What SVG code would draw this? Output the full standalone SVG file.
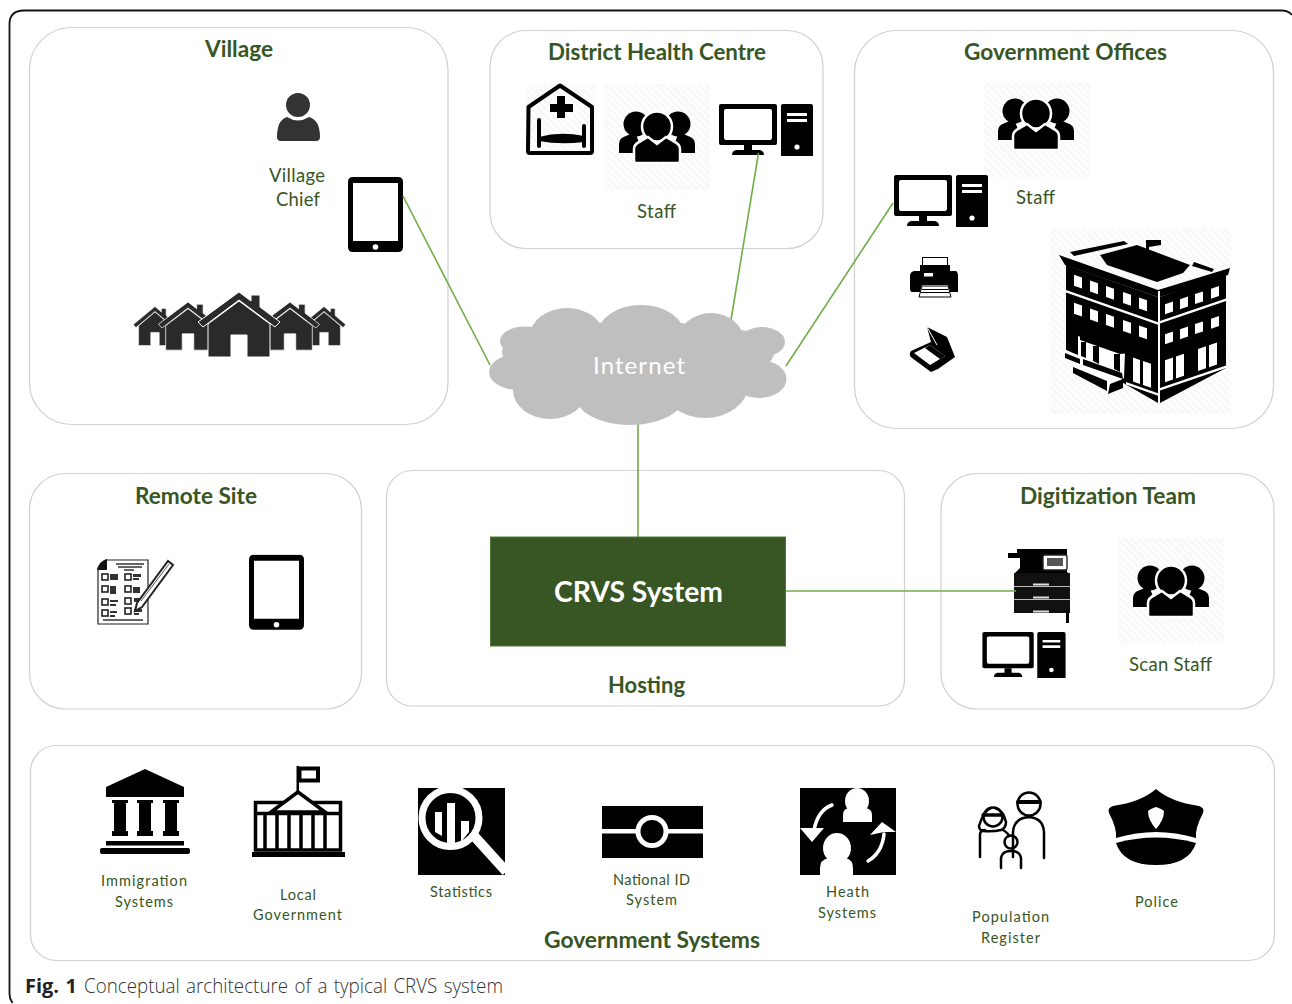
<svg xmlns="http://www.w3.org/2000/svg" width="1292" height="1004" viewBox="0 0 1292 1004">
<style>
text{font-family:Lato,"Liberation Sans",sans-serif;text-anchor:middle}
.box{fill:#fff;stroke:#d0d0d0;stroke-width:1.2}
.t{font-size:23.5px;font-weight:700;fill:#375623}
.l{font-size:18.5px;fill:#375623}
.s{font-size:14.5px;fill:#375623}
.conn{stroke:#70ad47;stroke-width:1.6;fill:none}
.hatch{fill:url(#h)}
.cap{font-family:"Open Sans","Noto Sans",sans-serif;font-size:19.500px;word-spacing:1.500px}
</style>
<defs>
<pattern id="h" width="5" height="5" patternUnits="userSpaceOnUse" patternTransform="rotate(45)"><rect width="5" height="5" fill="#fdfdfd"/><rect width="5" height="1.6" fill="#f5f5f5"/></pattern>
<symbol id="staff" viewBox="0 0 76 52" overflow="visible">
<circle cx="17" cy="13" r="12.500"/><circle cx="59" cy="13" r="12.500"/>
<path d="M0 42V33Q0 27 7 25L16 21L24 42H2Z"/><path d="M76 42V33Q76 27 69 25L60 21L52 42H74Z"/>
<circle cx="38" cy="15.500" r="15" stroke="#fff" stroke-width="2.500"/>
<path d="M15 50V38Q15 33 22 30L29 26L38 33L47 26L54 30Q61 33 61 38V50Q61 52 59 52H17Q15 52 15 50Z" stroke="#fff" stroke-width="2.500"/>
</symbol>
<symbol id="pc" viewBox="0 0 94 52">
<path fill-rule="evenodd" d="M2 0H56Q58 0 58 2V39Q58 41 56 41H2Q0 41 0 39V2Q0 0 2 0ZM7 5Q5 5 5 7V33Q5 36 7 36H51Q53 36 53 33V7Q53 5 51 5Z"/>
<path d="M25 41H33V46H41Q45 47 45 51H13Q13 47 17 46H25Z"/>
<path fill-rule="evenodd" d="M64 0H92Q94 0 94 2V52H62V2Q62 0 64 0ZM68 9V12H88V9ZM68 15V18H88V15Z"/>
<circle cx="78" cy="43" r="2.600" fill="#fff"/>
</symbol>
<symbol id="tablet" viewBox="0 0 55 75">
<path fill-rule="evenodd" d="M5 0H50Q55 0 55 5V70Q55 75 50 75H5Q0 75 0 70V5Q0 0 5 0ZM5 6V64H50V6Z"/>
<circle cx="27.500" cy="70" r="2.800" fill="#fff"/>
</symbol>
<g id="house">
<path d="M-31 28L0 5L31 28V61H8V39H-8V61H-31Z"/>
<path d="M-41 26L0 -4L12 5V-1H21V11L41 26L36 31L0 4L-36 31Z"/>
</g>
</defs>
<rect width="1292" height="1004" fill="#fff"/>
<path d="M1292 15Q1288 10.500 1282 10.500H24Q9.500 10.500 9.500 24V994Q9.500 999 12.500 1003" fill="none" stroke="#111" stroke-width="1.800"/>

<g id="village">
<rect class="box" x="29.500" y="27.500" width="418.500" height="397" rx="42"/>
<text class="t" x="239" y="57" textLength="68" lengthAdjust="spacingAndGlyphs">Village</text>
<g id="village-chief" fill="#333">
<circle cx="298" cy="105" r="12"/>
<path d="M277 137Q277 120 287 117Q298 124 309 117Q320 120 320 137Q320 141 316 141H281Q277 141 277 137Z"/>
</g>
<text class="l" x="297" y="182" textLength="56">Village</text>
<text class="l" x="298" y="206" textLength="44">Chief</text>
<use href="#tablet" x="348" y="177" width="55" height="75"/>
<g id="houses" fill="#2a2a2a" stroke="#fff" stroke-width="1">
<use href="#house" transform="translate(155,309) scale(.53,.6)"/>
<use href="#house" transform="translate(324,309) scale(.53,.6)"/>
<use href="#house" transform="translate(188,305) scale(.72,.74)"/>
<use href="#house" transform="translate(290,305) scale(.72,.74)"/>
<use href="#house" transform="translate(239,296)"/>
</g>
</g>

<g id="district-health-centre">
<rect class="box" x="490" y="30.500" width="333" height="218" rx="36"/>
<text class="t" x="657" y="60" textLength="218" lengthAdjust="spacingAndGlyphs">District Health Centre</text>
<rect class="hatch" x="604" y="84" width="106" height="106"/>
<rect class="hatch" x="526" y="84" width="70" height="70"/>
<path d="M528.500 107L560 85.500L592 107V151Q592 153 590 153H530Q528 153 528 151Z" fill="none" stroke="#000" stroke-width="4" stroke-linejoin="round"/>
<path d="M557 96H565V104H573V112H565V118H557V112H550V104H557Z"/>
<path d="M539 120V146M584 126V146" fill="none" stroke="#000" stroke-width="4" stroke-linecap="round"/>
<path d="M539 137Q560 131 584 136V142Q560 145 539 141Z"/>
<use href="#staff" x="619" y="111" width="76" height="52"/>
<use href="#pc" x="719" y="104" width="94" height="52"/>
<text class="l" x="656.500" y="218" textLength="39">Staff</text>
</g>

<g id="government-offices">
<rect class="box" x="854.500" y="30.500" width="419" height="398" rx="42"/>
<text class="t" x="1065.500" y="60" textLength="203" lengthAdjust="spacingAndGlyphs">Government Offices</text>
<rect class="hatch" x="984" y="83" width="106" height="94"/>
<use href="#staff" x="998" y="98" width="76" height="52"/>
<use href="#pc" x="894" y="175" width="94" height="52"/>
<text class="l" x="1035.500" y="204" textLength="39">Staff</text>
<g id="printer">
<rect x="922.500" y="257.500" width="25" height="14" fill="#fff" stroke="#000"/>
<path d="M920 265H950V271H956Q958 272 958 276V292H950L948 285H922L920 292H912Q910 292 910 288V276Q910 272 914 271H920Z"/>
<rect x="924" y="273" width="9" height="3.500" fill="#fff"/>
<path d="M922 286H948L951 297H919Z" fill="#fff" stroke="#000"/>
<path d="M922 289.500H948M921 292.500H949" stroke="#000" stroke-width="1.200"/>
</g>
<g id="scanner">
<path d="M927 327L947 337L955 357L938 369L931 372L912 358Q908 355 911 351L931 342Z"/>
<path d="M914 353L930 345L945 356L930 365Z" fill="#fff"/>
<path d="M925 348L930 345L945 356L940 359Z"/>
<path d="M927 327L937 345" stroke="#fff" stroke-width="1"/>
</g>
<g id="office-building">
<rect class="hatch" x="1051" y="228" width="180" height="186"/>
<path d="M1066 265L1158 297V403L1066 350Z"/>
<path d="M1160 297L1226 274V368L1160 403Z"/>
<path d="M1059 255L1158 290L1230 268L1228 275L1160 297L1158 297L1065 265Z"/>
<path d="M1070 252L1124 241L1128 244L1074 256Z"/>
<path d="M1100 255L1137 245L1190 265L1183 273L1157 282L1107 265Z"/>
<path d="M1143 276H1146V240H1161V245L1149 247V276Z"/>
<path d="M1194 262L1214 269L1212 272L1192 266Z"/>
<path d="M1159 291V402" stroke="#fff" stroke-width="2"/>
<g transform="matrix(1,.35,0,1,1066,262)" fill="#fff">
<rect x="8" y="10" width="8" height="11"/><rect x="24" y="10" width="8" height="11"/><rect x="40" y="10" width="8" height="11"/><rect x="57" y="10" width="8" height="11"/><rect x="73" y="10" width="8" height="11"/>
<rect y="28" width="92" height="2.500"/>
<rect x="8" y="38" width="8" height="11"/><rect x="24" y="38" width="8" height="11"/><rect x="40" y="38" width="8" height="11"/><rect x="57" y="38" width="8" height="11"/><rect x="73" y="38" width="8" height="11"/>
<rect x="67" y="72" width="7" height="24"/><rect x="77" y="72" width="8" height="24"/>
<rect x="60" y="99" width="32" height="2.500"/>
</g>
<g transform="matrix(1,-.34,0,1,1160,294)" fill="#fff">
<rect x="5" y="12" width="8" height="10"/><rect x="20" y="12" width="8" height="10"/><rect x="35" y="12" width="8" height="10"/><rect x="51" y="12" width="8" height="10"/>
<rect y="27" width="66" height="2.500"/>
<rect x="5" y="42" width="8" height="10"/><rect x="20" y="42" width="8" height="10"/><rect x="35" y="42" width="8" height="10"/><rect x="51" y="42" width="8" height="10"/>
<rect x="5" y="68" width="8" height="22"/><rect x="16" y="68" width="8" height="22"/><rect x="38" y="68" width="8" height="22"/><rect x="49" y="68" width="8" height="22"/>
<rect y="94" width="66" height="2.500"/>
</g>
<path d="M1078 336L1125 352L1124 378L1108 392L1100 388L1064 354L1066 350L1078 355Z" fill="#fff"/>
<path d="M1080 332L1093 328L1133 345L1130 353L1120 354L1080 340Z"/>
<path d="M1081 342H1086V358L1081 356ZM1093 346H1099V364L1093 361ZM1114 354H1120V372L1114 369Z"/>
<path d="M1065 353L1080 359L1080 364L1065 358Z"/>
<path d="M1083 359L1122 373L1123 379L1083 365Z"/>
<path d="M1073 367L1107 381L1107 391L1073 373Z"/>
<path d="M1110 384L1123 379L1123 388L1108 394Z"/>
</g>
</g>

<g id="remote-site">
<rect class="box" x="29.500" y="473.500" width="332" height="235.500" rx="36"/>
<text class="t" x="196" y="504" textLength="122" lengthAdjust="spacingAndGlyphs">Remote Site</text>
<g id="form">
<path d="M106 560H148V624H98V568Z" fill="#fff" stroke="#222" stroke-width="1.200"/>
<path d="M97 570Q99 561 107 559V570Z" fill="#111"/>
<path d="M116 564H144M118 567H142M124 570H134M103 620H143" stroke="#333" stroke-width="1.500"/>
<g fill="none" stroke="#222" stroke-width="1.600">
<rect x="102" y="574" width="6" height="6"/><rect x="102" y="586" width="6" height="6"/><rect x="102" y="599" width="6" height="6"/><rect x="102" y="610" width="6" height="6"/>
<rect x="125" y="574" width="6" height="6"/><rect x="125" y="586" width="6" height="6"/><rect x="125" y="598" width="6" height="6"/><rect x="125" y="608" width="6" height="6"/>
</g>
<path d="M110 574h8v6h-8zM110 586h6v8h-6zM110 600h8v2h-8zM110 604h6v2h-6zM110 611h7v2h-7zM110 615h5v2h-5zM133 574h8v3h-8zM133 578h6v2h-6zM133 587h7v6h-7zM134 598h6v4h-6zM134 609h8v3h-8zM134 613h5v2h-5z" fill="#333"/>
<path d="M137 603L168 561L173 565L142 607L135 611Z" fill="#fff" stroke="#222" stroke-width="2"/>
<path d="M141 601L169 564" stroke="#555" stroke-width="1"/>
</g>
<use href="#tablet" x="249" y="554.500" width="55" height="75.500"/>
</g>

<g id="hosting">
<rect class="box" x="386.500" y="470.500" width="518" height="235.500" rx="26"/>
<text class="t" x="646.500" y="692.500" textLength="77" lengthAdjust="spacingAndGlyphs">Hosting</text>
</g>

<g id="digitization-team">
<rect class="box" x="941" y="473.500" width="333" height="235.500" rx="36"/>
<text class="t" x="1108" y="504" textLength="176" lengthAdjust="spacingAndGlyphs">Digitization Team</text>
<rect class="hatch" x="1118" y="538" width="106" height="106"/>
<use href="#staff" x="1133" y="565" width="76" height="52"/>
<g id="copier">
<path d="M1008 553H1017V549H1067V556H1043V570H1067V572L1070 574H1014L1020 568V558H1008Z"/>
<rect x="1043" y="555" width="24" height="15" rx="1.500" fill="#fff" stroke="#222" stroke-width="1.400"/>
<rect x="1047" y="558" width="16" height="8" fill="#555"/>
<rect x="1014" y="573" width="56" height="40" fill="#111"/>
<path d="M1014 586.500H1070M1014 599.500H1070" stroke="#bbb" stroke-width="1"/>
<path d="M1033 584.500H1049M1033 597.500H1049M1033 611.500H1049" stroke="#ddd" stroke-width="1.800"/>
<rect x="1066" y="610" width="3" height="13"/>
</g>
<use href="#pc" x="982" y="632" width="84" height="46"/>
<text class="l" x="1170.500" y="671" textLength="83">Scan Staff</text>
</g>

<g id="connectors">
<path class="conn" d="M403 196L490 365"/>
<path class="conn" d="M758.500 153L731 320"/>
<path class="conn" d="M893 203L786 366"/>
<path class="conn" d="M638 424V537"/>
<path class="conn" d="M786 591H1016"/>
</g>

<g id="internet">
<g fill="#bfbfbf">
<ellipse cx="641" cy="336" rx="44" ry="31"/>
<ellipse cx="567" cy="336" rx="37" ry="28"/>
<ellipse cx="711" cy="341" rx="33" ry="28"/>
<ellipse cx="762" cy="342" rx="23" ry="15"/>
<ellipse cx="525" cy="341" rx="25" ry="14.500"/>
<ellipse cx="519" cy="372" rx="30" ry="18"/>
<ellipse cx="759" cy="379" rx="27.500" ry="19"/>
<ellipse cx="550" cy="390" rx="37" ry="29"/>
<ellipse cx="630" cy="395" rx="55" ry="30"/>
<ellipse cx="705" cy="385" rx="43" ry="33"/>
<ellipse cx="640" cy="362" rx="112" ry="42"/>
<ellipse cx="738" cy="352" rx="36" ry="22"/>
<ellipse cx="538" cy="352" rx="36" ry="20"/>
</g>
<text x="639" y="374" font-size="24" fill="#fff" textLength="92">Internet</text>
</g>

<g id="crvs-system">
<rect x="490.500" y="537" width="295" height="109" fill="#375623" stroke="#4f7a33"/>
<text x="638.500" y="602" font-size="28" font-weight="700" fill="#fff" textLength="169" lengthAdjust="spacingAndGlyphs">CRVS System</text>
</g>

<g id="government-systems">
<rect class="box" x="30.500" y="745.500" width="1244" height="215" rx="26"/>
<text class="t" x="652" y="947.500" textLength="216" lengthAdjust="spacingAndGlyphs">Government Systems</text>
</g>

<g id="immigration">
<path d="M145 769L184 787V797H106V787Z"/>
<path d="M112 800H128V803H126V831H128V836H112V831H114V803H112ZM137 800H153V803H151V831H153V836H137V831H139V803H137ZM163 800H179V803H177V831H179V836H163V831H165V803H163Z"/>
<rect x="106" y="841" width="78" height="4.500"/>
<rect x="100" y="848" width="90" height="6" rx="2"/>
<text class="s" x="144" y="886" textLength="86">Immigration</text>
<text class="s" x="144" y="907" textLength="58">Systems</text>
</g>

<g id="local-government">
<rect x="296.500" y="766" width="2.500" height="27"/>
<rect x="299.500" y="768.500" width="18.500" height="12" fill="#fff" stroke="#000" stroke-width="4"/>
<path d="M255.500 802.500H340.500V850H255.500Z" fill="#fff" stroke="#000" stroke-width="3.500"/>
<path d="M255 813.500H341M265 813V849M277 813V849M289 813V849M301 813V849M313 813V849M325 813V849" stroke="#000" stroke-width="3.500" fill="none"/>
<path d="M298 792L271 812H325Z" fill="#fff" stroke="#000" stroke-width="3.500"/>
<rect x="252" y="852" width="93" height="5"/>
<text class="s" x="298" y="900" textLength="36">Local</text>
<text class="s" x="297.500" y="920" textLength="89">Government</text>
</g>

<g id="statistics">
<rect x="418" y="788" width="87" height="87"/>
<path d="M476 838L503 868" stroke="#fff" stroke-width="10" stroke-linecap="square"/>
<circle cx="450.500" cy="818" r="28.500" fill="#000" stroke="#fff" stroke-width="7"/>
<path d="M435 812H442V836L435 832ZM447 803H455V846H447ZM461 821H469V832L461 842Z" fill="#fff"/>
<text class="s" x="461" y="897" textLength="62">Statistics</text>
</g>

<g id="national-id">
<rect x="602" y="806" width="101" height="52"/>
<rect x="602" y="829" width="101" height="4.500" fill="#fff"/>
<circle cx="652" cy="831.500" r="14" fill="#000" stroke="#fff" stroke-width="5"/>
<text class="s" x="651.500" y="885" textLength="77">National ID</text>
<text class="s" x="651.500" y="905" textLength="51">System</text>
</g>

<g id="health">
<rect x="800" y="788" width="96" height="87"/>
<g fill="#fff">
<ellipse cx="857" cy="801" rx="12" ry="13"/>
<path d="M843 822V815Q843 808 850 808Q857 814 864 808Q872 808 872 815V822Z"/>
<ellipse cx="837" cy="848" rx="14" ry="15"/>
<path d="M820 875V868Q820 860 828 858Q837 864 846 858Q853 860 853 868V875Z"/>
<path d="M800 828H824L812 842Z"/>
<path d="M870 835L882 822L896 832H884Z"/>
</g>
<path d="M832 805Q818 810 814 830M868 861Q882 853 884 834" fill="none" stroke="#fff" stroke-width="3.500" stroke-linecap="round"/>
<text class="s" x="847.500" y="897" textLength="43">Heath</text>
<text class="s" x="847" y="918" textLength="58">Systems</text>
</g>

<g id="population-register">
<g fill="none" stroke="#000" stroke-width="2.500" stroke-linecap="round">
<circle cx="1029" cy="804" r="11.500"/><path d="M1018 802H1040" stroke-width="4"/>
<path d="M1013 857V832Q1014 818 1029 817Q1043 818 1044 832V858"/>
<circle cx="993" cy="817" r="9.500"/><path d="M983 815H1003" stroke-width="3.500"/>
<path d="M995 808Q1003 810 1006 822Q1006 828 1001 830M991 808Q984 810 979 826Q979 830 983 831Q993 832 1001 830"/>
<path d="M980 857V834Q981 830 985 830M1003 830Q1008 833 1009 836"/>
<circle cx="1011" cy="842" r="6.500"/>
<path d="M1001 868V858Q1002 851 1011 851Q1020 851 1021 858V868"/>
</g>
<text class="s" x="1010.500" y="922" textLength="77">Population</text>
<text class="s" x="1010.500" y="943" textLength="59">Register</text>
</g>

<g id="police">
<path d="M1156 789Q1171 802 1199 806Q1205 808 1203 813Q1195 828 1196 838Q1156 826 1116 838Q1117 828 1109 813Q1107 808 1113 806Q1141 802 1156 789Z"/>
<path d="M1116 843Q1156 832 1196 843Q1189 865 1156 865Q1123 865 1116 843Z"/>
<path d="M1156 807Q1162 809 1164 811Q1164 820 1156 829Q1148 820 1148 811Q1150 809 1156 807Z" fill="#fff"/>
<text class="s" x="1156.500" y="907" textLength="43">Police</text>
</g>

<g id="caption">
<text class="cap" x="51" y="993" font-weight="700" fill="#222" textLength="52" lengthAdjust="spacingAndGlyphs">Fig. 1</text>
<text class="cap" x="293.500" y="993" font-weight="300" fill="#333" textLength="419" lengthAdjust="spacingAndGlyphs">Conceptual architecture of a typical CRVS system</text>
</g>
</svg>
